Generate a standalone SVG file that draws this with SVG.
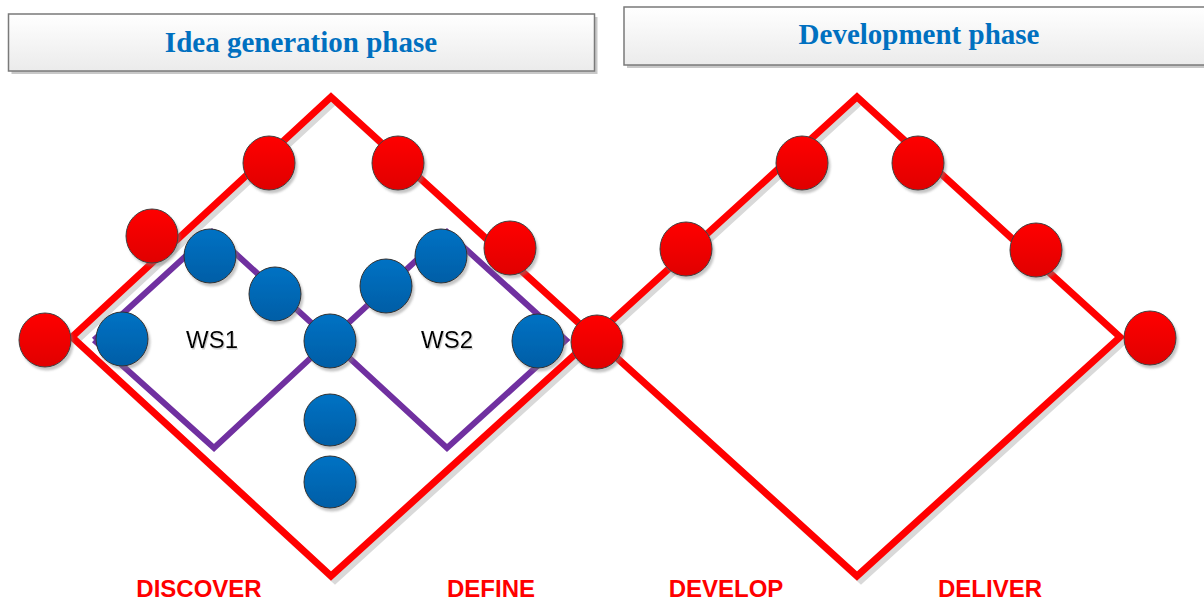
<svg xmlns="http://www.w3.org/2000/svg" width="1204" height="602" viewBox="0 0 1204 602">
<defs>
<linearGradient id="gRed" x1="0" y1="0" x2="0" y2="1"><stop offset="0" stop-color="#ff0000"/><stop offset="1" stop-color="#e00000"/></linearGradient>
<linearGradient id="gBlue" x1="0" y1="0" x2="0" y2="1"><stop offset="0" stop-color="#0072c4"/><stop offset="1" stop-color="#005ea6"/></linearGradient>
<linearGradient id="gBox" x1="0" y1="0" x2="0" y2="1"><stop offset="0" stop-color="#ffffff"/><stop offset="1" stop-color="#ebebeb"/></linearGradient>
<filter id="sh" x="-30%" y="-30%" width="160%" height="160%"><feDropShadow dx="2" dy="3" stdDeviation="1.2" flood-color="#7f7f7f" flood-opacity="0.45"/></filter>
<filter id="tsh" x="-10%" y="-10%" width="120%" height="130%"><feDropShadow dx="1" dy="1.5" stdDeviation="0.6" flood-color="#999" flood-opacity="0.5"/></filter>
</defs>
<style>
.box{fill:url(#gBox);stroke:#7a7a7a;stroke-width:1.5}
.boxsh{fill:#c8c8c8}
.title{font-family:"Liberation Serif","Times New Roman",serif;font-weight:bold;font-size:29px;fill:#0070c0;text-anchor:middle}
.red{fill:none;stroke:#ff0000;stroke-width:7;stroke-linejoin:miter}
.redsh{fill:none;stroke:#d9d9d9;stroke-width:7}
.pur{fill:none;stroke:#7030a0;stroke-width:6;stroke-linejoin:miter}
.rn{fill:url(#gRed);stroke:#404040;stroke-width:1;filter:url(#sh)}
.bn{fill:url(#gBlue);stroke:#303030;stroke-width:1;filter:url(#sh)}
.ws{font-family:"Liberation Sans",Arial,sans-serif;font-size:24px;fill:#000;text-anchor:middle;filter:url(#tsh)}
.lbl{font-family:"Liberation Sans",Arial,sans-serif;font-weight:bold;font-size:24px;fill:#ff0000;text-anchor:middle}
</style>
<rect width="1204" height="602" fill="#ffffff"/>

<g id="header-idea">
<rect class="boxsh" x="11.5" y="17" width="586" height="57"/>
<rect class="box" x="8.5" y="14" width="586" height="57"/>
<text class="title" x="301" y="52">Idea generation phase</text>
</g>
<g id="header-development">
<rect class="boxsh" x="627" y="10" width="580" height="58"/>
<rect class="box" x="624" y="7" width="585" height="58"/>
<text class="title" x="919" y="44">Development phase</text>
</g>

<g id="connectors">
<polygon class="redsh" points="74,339 333,99 596,339 333,578" transform="translate(2,2)"/>
<polygon class="redsh" points="596,339 859,99 1122,339 859,578" transform="translate(2,2)"/>
<polygon class="red" points="72,337 331,97 594,337 331,576"/>
<polygon class="red" points="594,337 857,97 1120,337 857,576"/>
<polyline class="pur" points="94,340 212,232 330,340 447,232 566,340 447,448 330,340 214,448 94,340"/>
</g>

<g id="red-1"><ellipse class="rn" cx="45" cy="340" rx="26" ry="27"/></g>
<g id="red-2"><ellipse class="rn" cx="152" cy="236" rx="26" ry="27"/></g>
<g id="red-3"><ellipse class="rn" cx="269" cy="163" rx="26" ry="27"/></g>
<g id="red-4"><ellipse class="rn" cx="398" cy="163" rx="26" ry="27"/></g>
<g id="red-5"><ellipse class="rn" cx="510" cy="248" rx="26" ry="27"/></g>
<g id="red-6"><ellipse class="rn" cx="597" cy="342" rx="26" ry="27"/></g>
<g id="red-7"><ellipse class="rn" cx="686" cy="249" rx="26" ry="27"/></g>
<g id="red-8"><ellipse class="rn" cx="802" cy="163" rx="26" ry="27"/></g>
<g id="red-9"><ellipse class="rn" cx="918" cy="163" rx="26" ry="27"/></g>
<g id="red-10"><ellipse class="rn" cx="1036" cy="250" rx="26" ry="27"/></g>
<g id="red-11"><ellipse class="rn" cx="1150" cy="338" rx="26" ry="27"/></g>

<g id="blue-1"><ellipse class="bn" cx="122" cy="339" rx="26" ry="27"/></g>
<g id="blue-2"><ellipse class="bn" cx="210" cy="256" rx="26" ry="27"/></g>
<g id="blue-3"><ellipse class="bn" cx="275" cy="294" rx="26" ry="27"/></g>
<g id="blue-4"><ellipse class="bn" cx="330" cy="341" rx="26" ry="27"/></g>
<g id="blue-5"><ellipse class="bn" cx="386" cy="286" rx="26" ry="27"/></g>
<g id="blue-6"><ellipse class="bn" cx="441" cy="256" rx="26" ry="27"/></g>
<g id="blue-7"><ellipse class="bn" cx="538" cy="341" rx="26" ry="27"/></g>
<g id="blue-8"><ellipse class="bn" cx="330" cy="420" rx="26" ry="26"/></g>
<g id="blue-9"><ellipse class="bn" cx="330" cy="482" rx="26" ry="26"/></g>

<g id="ws1"><text class="ws" x="212" y="348">WS1</text></g>
<g id="ws2"><text class="ws" x="447" y="348">WS2</text></g>

<g id="label-discover"><text class="lbl" x="199" y="597">DISCOVER</text></g>
<g id="label-define"><text class="lbl" x="491" y="597">DEFINE</text></g>
<g id="label-develop"><text class="lbl" x="726" y="597">DEVELOP</text></g>
<g id="label-deliver"><text class="lbl" x="990" y="597">DELIVER</text></g>
</svg>
